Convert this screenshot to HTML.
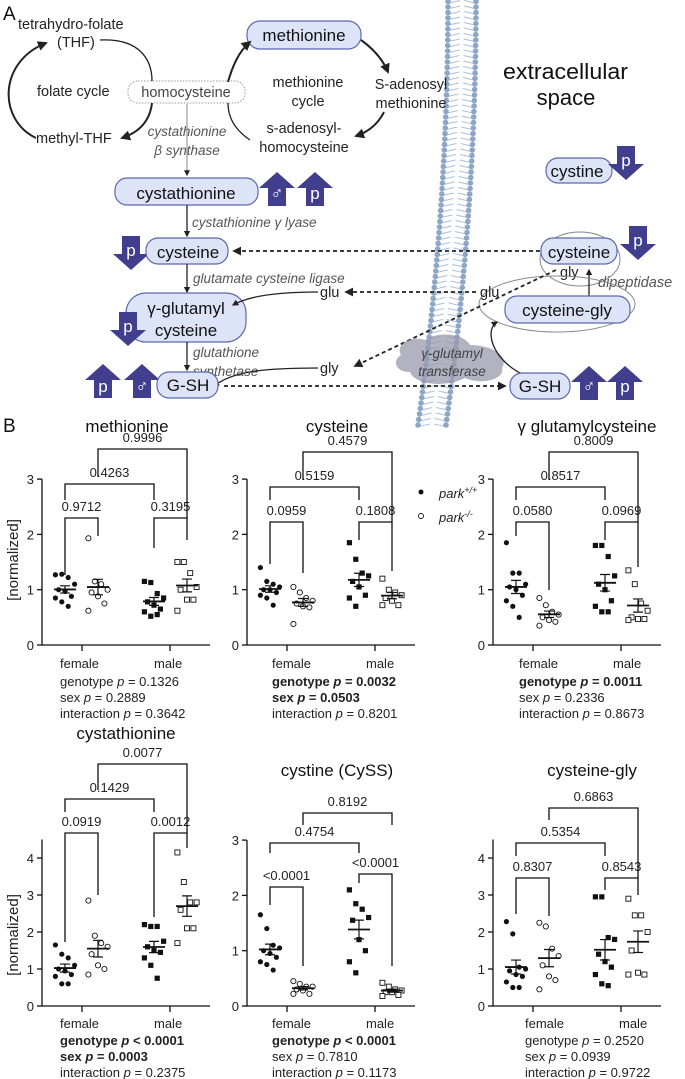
<!DOCTYPE html>
<html><head><meta charset="utf-8"><style>
html,body{margin:0;padding:0;background:#fff;}
svg{display:block;font-family:"Liberation Sans",Arial,sans-serif;}
.t{font-size:13px;fill:#222}
.it{font-style:italic;fill:#555;font-size:13.5px}
.box{fill:#dde4f7;stroke:#5b68b0;stroke-width:1.2}
.ln{stroke:#222;stroke-width:1.3;fill:none}
.th{stroke:#222;stroke-width:2;fill:none}
.ds{stroke:#222;stroke-width:1.8;fill:none;stroke-dasharray:4 3}
.ax{stroke:#111;stroke-width:1.3;fill:none}
.br{stroke:#111;stroke-width:1.3;fill:none}
.pt{font-size:13px;fill:#222}
.ti{font-size:17px;fill:#111}
.b{font-weight:bold}
</style></head><body>
<svg id="s" width="685" height="1079" viewBox="0 0 685 1079" xmlns="http://www.w3.org/2000/svg">
<defs>
<marker id="ah" viewBox="0 0 10 10" refX="8" refY="5" markerWidth="5" markerHeight="5" orient="auto"><path d="M0,0L10,5L0,10z" fill="#222"/></marker>
<g id="up"><polygon points="18,0 36,16 27,16 27,34 9,34 9,16 0,16" fill="#413f8d"/></g>
<g id="dn"><polygon points="18,34 36,18 27,18 27,0 9,0 9,18 0,18" fill="#413f8d"/></g>
</defs>
<g id="mem"></g>
<!-- Panel A -->
<text x="3" y="20" style="font-size:19px" fill="#111">A</text>
<text x="18" y="29" class="t" style="font-size:14.5px">tetrahydro-folate</text>
<text x="57" y="47" class="t" style="font-size:14.5px">(THF)</text>
<text x="37" y="96" class="t" style="font-size:14.5px">folate cycle</text>
<rect x="128" y="81" width="117" height="22" rx="10" fill="#fff" stroke="#999" stroke-dasharray="1.5 1.5"/>
<text x="186" y="97" class="t" text-anchor="middle" style="font-size:14.5px;fill:#444">homocysteine</text>
<text x="36" y="143" class="t" style="font-size:14.5px">methyl-THF</text>
<rect x="247" y="21" width="114" height="28" rx="13" class="box"/>
<text x="304" y="41" text-anchor="middle" style="font-size:17px" fill="#111">methionine</text>
<text x="308" y="87" class="t" text-anchor="middle" style="font-size:14.5px">methionine</text>
<text x="308" y="106" class="t" text-anchor="middle" style="font-size:14.5px">cycle</text>
<text x="411" y="89" class="t" text-anchor="middle" style="font-size:14.5px">S-adenosyl</text>
<text x="411" y="108" class="t" text-anchor="middle" style="font-size:14.5px">methionine</text>
<text x="304" y="133" class="t" text-anchor="middle" style="font-size:14.5px">s-adenosyl-</text>
<text x="304" y="152" class="t" text-anchor="middle" style="font-size:14.5px">homocysteine</text>
<text x="187" y="136" class="it" text-anchor="middle">cystathionine</text>
<text x="187" y="155" class="it" text-anchor="middle">β synthase</text>
<text x="503" y="79" style="font-size:22px" fill="#111" textLength="125" lengthAdjust="spacingAndGlyphs">extracellular</text>
<text x="566" y="105" style="font-size:22px" fill="#111" text-anchor="middle">space</text>
<!-- folate arrows -->
<path d="M100,40 C140,38 152,60 152,81" class="ln"/>
<path d="M152,103 C150,120 140,132 122,138" class="th" marker-end="url(#ah)"/>
<path d="M36,138 C-2,120 -2,62 46,43" class="th" marker-end="url(#ah)"/>
<path d="M228,82 C232,68 238,52 250,42" class="th" marker-end="url(#ah)"/>
<path d="M361,40 C375,50 383,60 388,72" class="th" marker-end="url(#ah)"/>
<path d="M384,112 C378,124 368,132 356,136" class="th" marker-end="url(#ah)"/>
<path d="M250,140 C235,130 228,118 228,103" class="ln"/>
<path d="M187,104 L187,175" stroke="#999" stroke-width="1.2" marker-end="url(#ah)"/>
<!-- cystathionine -->
<rect x="115" y="178" width="143" height="27" rx="12" class="box"/>
<text x="186" y="199" text-anchor="middle" style="font-size:17px" fill="#111">cystathionine</text>
<use href="#up" x="259" y="172"/><text x="277" y="199" text-anchor="middle" fill="#fff" style="font-size:17px">♂</text>
<use href="#up" x="297" y="172"/><text x="315" y="199" text-anchor="middle" fill="#fff" style="font-size:17px">p</text>
<path d="M187,205 L187,236" class="ln" marker-end="url(#ah)"/>
<text x="192" y="227" class="it">cystathionine γ lyase</text>
<use href="#dn" x="113" y="236"/><text x="131" y="256" text-anchor="middle" fill="#fff" style="font-size:17px">p</text>
<rect x="146" y="238" width="82" height="26" rx="12" class="box"/>
<text x="188" y="258" text-anchor="middle" style="font-size:17px" fill="#111">cysteine</text>
<path d="M187,264 L187,292" class="ln" marker-end="url(#ah)"/>
<text x="193" y="283" class="it">glutamate cysteine ligase</text>
<rect x="126" y="293" width="120" height="49" rx="20" class="box"/>
<text x="186" y="314" text-anchor="middle" style="font-size:17px" fill="#111">γ-glutamyl</text>
<text x="186" y="336" text-anchor="middle" style="font-size:17px" fill="#111">cysteine</text>
<use href="#dn" x="110" y="312"/><text x="128" y="332" text-anchor="middle" fill="#fff" style="font-size:17px">p</text>
<path d="M187,342 L187,370" class="ln" marker-end="url(#ah)"/>
<text x="193" y="357" class="it">glutathione</text>
<text x="193" y="376" class="it">synthetase</text>
<text x="320" y="297" class="t" style="font-size:14.5px">glu</text>
<path d="M318,292 C270,292 245,298 233,305" class="ln" marker-end="url(#ah)"/>
<text x="320" y="373" class="t" style="font-size:14.5px">gly</text>
<path d="M318,368 C260,368 232,372 214,386" class="ln" marker-end="url(#ah)"/>
<use href="#up" x="85" y="364"/><text x="103" y="392" text-anchor="middle" fill="#fff" style="font-size:17px">p</text>
<use href="#up" x="124" y="364"/><text x="142" y="392" text-anchor="middle" fill="#fff" style="font-size:17px">♂</text>
<rect x="157" y="372" width="61" height="26" rx="12" class="box"/>
<text x="188" y="391" text-anchor="middle" style="font-size:17px" fill="#111">G-SH</text>
<!-- extracellular -->
<rect x="546" y="158" width="66" height="25" rx="12" class="box"/>
<text x="577" y="177" text-anchor="middle" style="font-size:17px" fill="#111">cystine</text>
<use href="#dn" x="608" y="146"/><text x="626" y="166" text-anchor="middle" fill="#fff" style="font-size:17px">p</text>
<ellipse cx="580" cy="259" rx="40" ry="27" fill="none" stroke="#888"/>
<rect x="541" y="238" width="76" height="26" rx="12" class="box"/>
<text x="579" y="258" text-anchor="middle" style="font-size:17px" fill="#111">cysteine</text>
<use href="#dn" x="620" y="226"/><text x="638" y="246" text-anchor="middle" fill="#fff" style="font-size:17px">p</text>
<text x="560" y="277" class="t" style="font-size:14.5px">gly</text>
<path d="M589,296 L589,270" class="ln" marker-end="url(#ah)"/>
<text x="598" y="287" class="it" style="font-size:14.5px">dipeptidase</text>
<ellipse cx="557" cy="304" rx="78" ry="28" fill="none" stroke="#888"/>
<rect x="505" y="296" width="125" height="27" rx="12" class="box"/>
<text x="567" y="316" text-anchor="middle" style="font-size:17px" fill="#111">cysteine-gly</text>
<text x="480" y="297" class="t" style="font-size:14.5px">glu</text>
<path d="M540,251 L234,251" class="ds" marker-end="url(#ah)"/>
<path d="M476,292 L346,292" class="ds" marker-end="url(#ah)"/>
<path d="M556,270 L355,366" class="ds" stroke="#333" marker-end="url(#ah)"/>
<path d="M401,355 C395,345 410,335 425,340 C440,330 465,335 470,345 C490,345 510,355 502,368 C505,380 480,385 465,378 C445,388 415,385 410,372 C395,372 392,360 401,355z" fill="#9a98ac" opacity="0.75"/>
<text x="452" y="358" class="it" text-anchor="middle" style="fill:#444">γ-glutamyl</text>
<text x="452" y="376" class="it" text-anchor="middle" style="fill:#444">transferase</text>
<path d="M524,375 C492,360 484,330 497,322" class="ln" marker-end="url(#ah)"/>
<path d="M224,386 L505,386" class="ds" marker-end="url(#ah)"/>
<rect x="510" y="373" width="60" height="26" rx="12" class="box"/>
<text x="540" y="392" text-anchor="middle" style="font-size:17px" fill="#111">G-SH</text>
<use href="#up" x="571" y="366"/><text x="589" y="392" text-anchor="middle" fill="#fff" style="font-size:17px">♂</text>
<use href="#up" x="607" y="366"/><text x="625" y="392" text-anchor="middle" fill="#fff" style="font-size:17px">p</text>
<!-- Panel B -->
<text x="3" y="432" style="font-size:19px" fill="#111">B</text>
<text x="127" y="432" class="ti" text-anchor="middle">methionine</text>
<text x="337" y="432" class="ti" text-anchor="middle">cysteine</text>
<text x="587" y="432" class="ti" text-anchor="middle">γ glutamylcysteine</text>
<text x="126" y="739" class="ti" text-anchor="middle">cystathionine</text>
<text x="337" y="776" class="ti" text-anchor="middle">cystine (CySS)</text>
<text x="592" y="776" class="ti" text-anchor="middle">cysteine-gly</text>
<text transform="translate(18,560) rotate(-90)" text-anchor="middle" style="font-size:15px" fill="#222">[normalized]</text>
<text transform="translate(18,935) rotate(-90)" text-anchor="middle" style="font-size:15px" fill="#222">[normalized]</text>
<circle cx="421" cy="492" r="2.5" fill="#111"/>
<text x="439" y="498" class="pt" style="font-style:italic">park<tspan dy="-5" style="font-size:9px">+/+</tspan></text>
<circle cx="421" cy="516" r="2.5" fill="#fff" stroke="#111" stroke-width="0.9"/>
<text x="439" y="522" class="pt" style="font-style:italic">park<tspan dy="-5" style="font-size:9px">-/-</tspan></text>
<!-- stats text -->
<g class="pt">
<text x="60" y="668">female</text><text x="154" y="668">male</text>
<text x="60" y="686">genotype <tspan font-style="italic">p</tspan> = 0.1326</text>
<text x="60" y="702">sex <tspan font-style="italic">p</tspan> = 0.2889</text>
<text x="60" y="718">interaction <tspan font-style="italic">p</tspan> = 0.3642</text>
<text x="272" y="668">female</text><text x="366" y="668">male</text>
<text x="272" y="686" class="b">genotype <tspan font-style="italic">p</tspan> = 0.0032</text>
<text x="272" y="702" class="b">sex <tspan font-style="italic">p</tspan> = 0.0503</text>
<text x="272" y="718">interaction <tspan font-style="italic">p</tspan> = 0.8201</text>
<text x="519" y="668">female</text><text x="613" y="668">male</text>
<text x="519" y="686" class="b">genotype <tspan font-style="italic">p</tspan> = 0.0011</text>
<text x="519" y="702">sex <tspan font-style="italic">p</tspan> = 0.2336</text>
<text x="519" y="718">interaction <tspan font-style="italic">p</tspan> = 0.8673</text>
<text x="60" y="1028">female</text><text x="154" y="1028">male</text>
<text x="60" y="1045" class="b">genotype <tspan font-style="italic">p</tspan> &lt; 0.0001</text>
<text x="60" y="1061" class="b">sex <tspan font-style="italic">p</tspan> = 0.0003</text>
<text x="60" y="1077">interaction <tspan font-style="italic">p</tspan> = 0.2375</text>
<text x="272" y="1028">female</text><text x="366" y="1028">male</text>
<text x="272" y="1045" class="b">genotype <tspan font-style="italic">p</tspan> &lt; 0.0001</text>
<text x="272" y="1061">sex <tspan font-style="italic">p</tspan> = 0.7810</text>
<text x="272" y="1077">interaction <tspan font-style="italic">p</tspan> = 0.1173</text>
<text x="525" y="1028">female</text><text x="619" y="1028">male</text>
<text x="525" y="1045">genotype <tspan font-style="italic">p</tspan> = 0.2520</text>
<text x="525" y="1061">sex <tspan font-style="italic">p</tspan> = 0.0939</text>
<text x="525" y="1077">interaction <tspan font-style="italic">p</tspan> = 0.9722</text>
</g>
<g id="plots"></g>
</svg>
<script>
var NS="http://www.w3.org/2000/svg";
function el(p,n,a,t){var e=document.createElementNS(NS,n);for(var k in a)e.setAttribute(k,a[k]);if(t!=null)e.textContent=t;p.appendChild(e);return e;}
var m=document.getElementById('mem');
function cx(y){return 462-30*Math.pow(Math.max(y,0)/425,2);}
for(var y=-4;y<430;y+=5.5){var c=cx(y);
 el(m,'line',{x1:c-13,y1:y+1.5,x2:c-2,y2:y-1,stroke:'#aac0de','stroke-width':0.9});
 el(m,'line',{x1:c+2,y1:y-1,x2:c+13,y2:y+1.5,stroke:'#aac0de','stroke-width':0.9});
 el(m,'circle',{cx:c-14,cy:y,r:2.8,fill:'#8ea6c6'});
 el(m,'circle',{cx:c+14,cy:y,r:2.8,fill:'#8ea6c6'});}
var P=document.getElementById('plots');
var plots=[
{ax:42,y0:645,py:55.3,ticks:[0,1,2,3],top:3,
 d:[[1.27,1.28,1.22,1.1,1.0,0.97,0.88,0.85,0.78,0.7],[1.93,1.15,1.1,1.0,0.95,0.88,0.75,0.62],[1.15,1.13,0.93,0.85,0.78,0.72,0.65,0.6,0.52,0.55],[1.5,1.5,1.3,1.05,1.0,0.82,0.82,0.62]],
 br:[[0,1,518,575,536,'0.9712'],[2,3,518,548,540,'0.3195'],[0,2,484,500,500,'0.4263'],[1,3,449,477,518,'0.9996']]},
{ax:247,y0:645,py:55.3,ticks:[0,1,2,3],top:3,
 d:[[1.4,1.15,1.1,1.05,1.0,1.0,0.95,0.9,0.85,0.72],[1.05,0.95,0.85,0.8,0.75,0.7,0.68,0.38],[1.85,1.55,1.3,1.25,1.15,1.05,0.9,0.85,0.7],[1.2,1.0,0.95,0.9,0.85,0.8,0.72,0.72]],
 br:[[0,1,522,564,573,'0.0959'],[2,3,522,540,571,'0.1808'],[0,2,487,500,500,'0.5159'],[1,3,452,480,522,'0.4579']]},
{ax:493,y0:645,py:55.3,ticks:[0,1,2,3],top:3,
 d:[[1.85,1.3,1.3,1.1,1.05,1.0,0.9,0.8,0.7,0.5],[0.85,0.72,0.6,0.55,0.5,0.45,0.42,0.35],[1.8,1.8,1.6,1.25,1.1,1.0,0.8,0.7,0.6,0.6],[1.35,1.1,0.75,0.62,0.5,0.47,0.47,0.45]],
 br:[[0,1,522,536,590,'0.0580'],[2,3,522,540,567,'0.0969'],[0,2,487,500,500,'0.8517'],[1,3,452,480,522,'0.8009']]},
{ax:42,y0:1006,py:37,ticks:[0,1,2,3,4],top:4.5,
 d:[[1.65,1.4,1.3,1.1,1.0,0.95,0.85,0.8,0.6,0.6],[2.85,1.9,1.7,1.6,1.4,1.1,1.0,0.85],[2.2,2.15,2.15,1.75,1.6,1.5,1.45,1.3,1.1,0.75],[4.15,3.35,2.8,2.8,2.6,2.1,2.1,1.7]],
 br:[[0,1,833,942,895,'0.0919'],[2,3,833,917,848,'0.0012'],[0,2,799,812,812,'0.1429'],[1,3,764,790,833,'0.0077']]},
{ax:247,y0:1006,py:55.3,ticks:[0,1,2,3],top:3,
 d:[[1.65,1.4,1.1,1.05,1.0,0.95,0.88,0.8,0.75,0.65],[0.45,0.4,0.35,0.35,0.3,0.28,0.22,0.22],[2.1,1.85,1.75,1.6,1.55,1.2,1.0,0.8,0.6],[0.42,0.35,0.3,0.28,0.25,0.25,0.2,0.18]],
 br:[[0,1,887,905,966,'<0.0001'],[2,3,874,883,966,'<0.0001'],[0,2,843,853,853,'0.4754'],[1,3,813,825,825,'0.8192']]},
{ax:493,y0:1006,py:37,ticks:[0,1,2,3,4],top:4.5,
 d:[[2.28,1.95,1.05,1.0,0.95,0.85,0.8,0.65,0.5,0.5],[2.25,2.15,1.55,1.35,1.1,0.8,0.7,0.45],[2.95,2.95,1.85,1.8,1.4,1.2,1.05,0.85,0.6,0.55],[2.9,2.45,2.45,2.0,1.5,0.9,0.85,0.85]],
 br:[[0,1,878,914,916,'0.8307'],[2,3,878,890,895,'0.8543'],[0,2,843,856,856,'0.5354'],[1,3,808,820,878,'0.6863']]}
];
var off=[23,56,112,145];
plots.forEach(function(p){
 var ax=p.ax,y0=p.y0,yt=y0-p.top*p.py;
 el(P,'path',{d:'M'+ax+','+yt+' L'+ax+','+y0+' L'+(ax+168)+','+y0,'class':'ax'});
 p.ticks.forEach(function(t){var y=y0-t*p.py;el(P,'line',{x1:ax-5,y1:y,x2:ax,y2:y,'class':'ax'});el(P,'text',{x:ax-8,y:y+5,'class':'pt','text-anchor':'end'},t);});
 [40,128].forEach(function(o){el(P,'line',{x1:ax+o,y1:y0,x2:ax+o,y2:y0+6,'class':'ax'});});
 p.d.forEach(function(v,g){
  var x0=ax+off[g];var n=v.length,mean=v.reduce(function(a,b){return a+b},0)/n;
  var sd=Math.sqrt(v.reduce(function(a,b){return a+(b-mean)*(b-mean)},0)/(n-1)),se=sd/Math.sqrt(n);
  v.forEach(function(val,i){var y=y0-val*p.py;var jx=((i*37)%7-3)*3.2;var x=x0+jx;
   if(g==0)el(P,'circle',{cx:x,cy:y,r:2.6,fill:'#111'});
   else if(g==1)el(P,'circle',{cx:x,cy:y,r:2.6,fill:'#fff',stroke:'#111','stroke-width':0.9});
   else if(g==2)el(P,'rect',{x:x-2.6,y:y-2.6,width:5.2,height:5.2,fill:'#111'});
   else el(P,'rect',{x:x-2.5,y:y-2.5,width:5,height:5,fill:'#fff',stroke:'#111','stroke-width':0.9});});
  var ym=y0-mean*p.py,yh=y0-(mean+se)*p.py,yl=y0-(mean-se)*p.py;
  el(P,'line',{x1:x0-11,y1:ym,x2:x0+11,y2:ym,stroke:'#111','stroke-width':1.8});
  el(P,'path',{d:'M'+x0+','+yh+'L'+x0+','+yl+'M'+(x0-5)+','+yh+'L'+(x0+5)+','+yh+'M'+(x0-5)+','+yl+'L'+(x0+5)+','+yl,stroke:'#111','stroke-width':1.2,fill:'none'});
 });
 p.br.forEach(function(b){var xa=ax+off[b[0]],xb=ax+off[b[1]];
  el(P,'path',{d:'M'+xa+','+b[3]+'L'+xa+','+b[2]+'L'+xb+','+b[2]+'L'+xb+','+b[4],'class':'br'});
  el(P,'text',{x:(xa+xb)/2,y:b[2]-7,'class':'pt','text-anchor':'middle'},b[5]);});
});
</script>
</body></html>
